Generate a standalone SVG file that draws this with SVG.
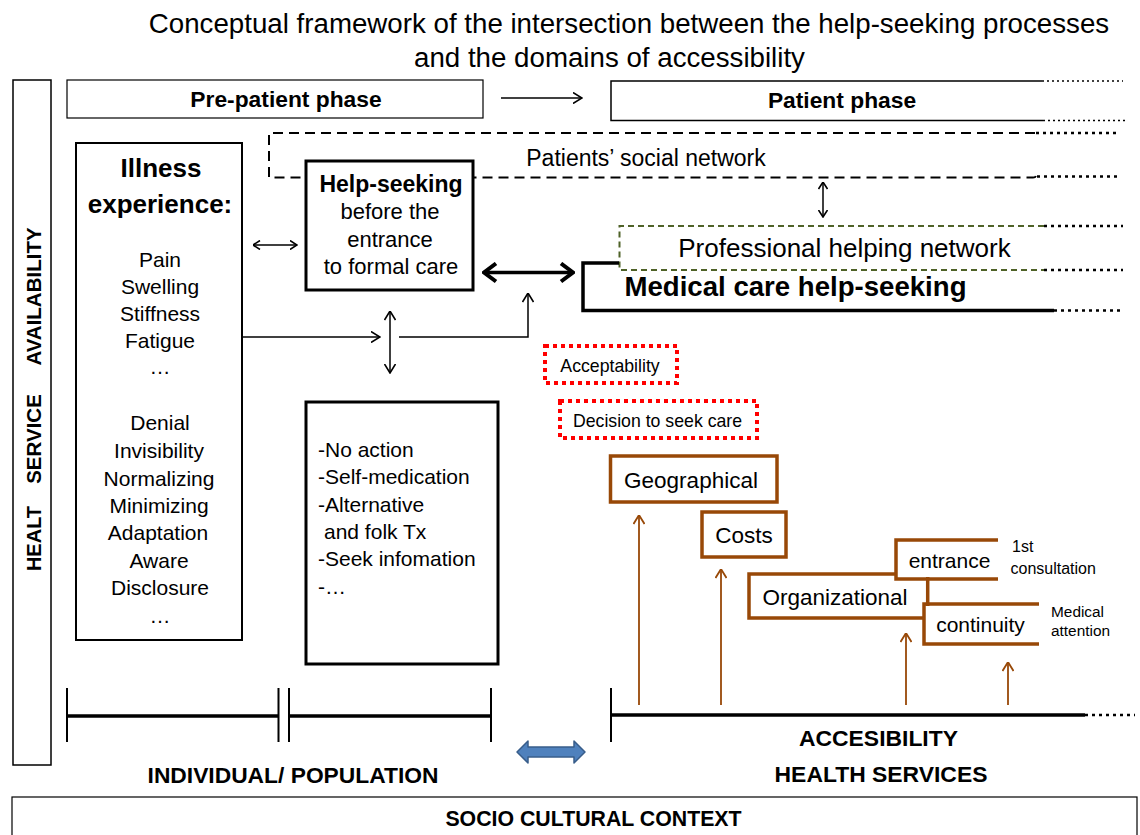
<svg xmlns="http://www.w3.org/2000/svg" width="1140" height="835" viewBox="0 0 1140 835">
  <style>
    text { font-family: "Liberation Sans", Arial, sans-serif; fill: #000; }
    .title { font-size: 27.7px; }
    .bold { font-weight: bold; }
    .box { fill: #fff; stroke: #000; }
    .thin { fill: none; stroke: #000; stroke-width: 1.5; }
    .dot { fill: none; stroke: #000; stroke-width: 2.5; stroke-dasharray: 3 4; }
    .dotfine { fill: none; stroke: #000; stroke-width: 1.5; stroke-dasharray: 2 3; }
    .brown { fill: #fff; stroke: #984807; stroke-width: 3.5; }
    .brownline { fill: none; stroke: #984807; stroke-width: 3.5; }
    .redbox { fill: #fff; stroke: #ff0000; stroke-width: 4; stroke-dasharray: 4 4; }
    .c { text-anchor: middle; }
    .list { font-size: 21px; }
  </style>
  <defs>
    <marker id="arrowThin" viewBox="0 0 10 12" refX="9.5" refY="6" markerWidth="10" markerHeight="12" markerUnits="userSpaceOnUse" orient="auto-start-reverse">
      <path d="M0.5,0.5 L9.5,6 L0.5,11.5" fill="none" stroke="#000" stroke-width="1.6"/>
    </marker>
    <marker id="arrowSmall" viewBox="0 0 8 10" refX="7.5" refY="5" markerWidth="8" markerHeight="10" markerUnits="userSpaceOnUse" orient="auto-start-reverse">
      <path d="M0.5,0.5 L7.5,5 L0.5,9.5" fill="none" stroke="#000" stroke-width="1.6"/>
    </marker>
    <marker id="arrowThick" viewBox="0 0 16 22" refX="14" refY="11" markerWidth="16" markerHeight="22" markerUnits="userSpaceOnUse" orient="auto-start-reverse">
      <path d="M2,2 L14,11 L2,20" fill="none" stroke="#000" stroke-width="4"/>
    </marker>
    <marker id="arrowBrown" viewBox="0 0 10 12" refX="9.5" refY="6" markerWidth="10" markerHeight="12" markerUnits="userSpaceOnUse" orient="auto">
      <path d="M0.5,0.5 L9.5,6 L0.5,11.5" fill="none" stroke="#984807" stroke-width="1.8"/>
    </marker>
  </defs>

  <rect width="1140" height="835" fill="#fff"/>

  <!-- heading -->
  <g id="title">
    <text class="title c" x="629" y="33">Conceptual framework of the intersection between the help-seeking processes</text>
    <text class="title c" x="609.5" y="67">and the domains of accessibility</text>
  </g>

  <!-- vertical side band -->
  <g id="health-service-availability">
    <rect class="box" x="13" y="80" width="38" height="685" stroke-width="1.5"/>
    <text class="bold c" font-size="20" transform="translate(40.5,538.5) rotate(-90)">HEALT</text>
    <text class="bold c" font-size="20.5" transform="translate(40.5,439) rotate(-90)">SERVICE</text>
    <text class="bold c" font-size="20.5" transform="translate(40.5,296.5) rotate(-90)">AVAILABILITY</text>
  </g>

  <!-- phase headers -->
  <g id="pre-patient-phase">
    <rect class="box" x="67" y="80" width="416" height="38" stroke-width="1.2"/>
    <text class="bold c" font-size="22.8" x="286" y="106.5">Pre-patient phase</text>
  </g>
  <g id="patient-phase">
    <path class="thin" d="M1042,81 H611 V120.5 H1043" stroke-width="1.2"/>
    <path class="dotfine" d="M1042,81 H1123 M1043,120.5 H1125"/>
    <text class="bold c" font-size="22.8" x="842" y="107.5">Patient phase</text>
  </g>

  <!-- social network -->
  <g id="social-network">
    <path d="M1035,133 H269 V177.5 H1033 Q1036,177.5 1036,175" fill="none" stroke="#000" stroke-width="2" stroke-dasharray="10 6"/>
    <path class="dot" d="M1036,133 H1118 M1037,176.5 H1118"/>
    <text class="c" font-size="23" x="646" y="166">Patients’ social network</text>
  </g>

  <!-- professional helping network -->
  <g id="professional-network">
    <path d="M1044,226 H619.5 V270 H1044" fill="#fff" stroke="#4f6228" stroke-width="2" stroke-dasharray="6 4"/>
    <path class="dot" d="M1044,226 H1123 M1044,270 H1123"/>
    <text class="c" font-size="26" x="844.5" y="257">Professional helping network</text>
  </g>

  <!-- medical care help-seeking -->
  <g id="medical-care">
    <path d="M619,263 H583 V310.5 H1054" fill="none" stroke="#000" stroke-width="3.5"/>
    <path class="dot" d="M1054,310.5 H1123"/>
    <text class="bold c" font-size="27.6" x="795.5" y="296">Medical care help-seeking</text>
  </g>

  <!-- illness experience -->
  <g id="illness-experience">
    <rect class="box" x="76" y="143" width="166" height="497" stroke-width="2"/>
    <text class="bold c" font-size="26" x="161" y="177">Illness</text>
    <text class="bold c" font-size="26" x="160" y="213">experience:</text>
    <g class="list">
      <text class="c" x="160" y="266.5">Pain</text>
      <text class="c" x="160" y="294">Swelling</text>
      <text class="c" x="160" y="321">Stiffness</text>
      <text class="c" x="160" y="348">Fatigue</text>
      <text class="c" x="160" y="374">…</text>
      <text class="c" x="160" y="430">Denial</text>
      <text class="c" x="159" y="458">Invisibility</text>
      <text class="c" x="159" y="486">Normalizing</text>
      <text class="c" x="159" y="513">Minimizing</text>
      <text class="c" x="158" y="540">Adaptation</text>
      <text class="c" x="159" y="568">Aware</text>
      <text class="c" x="160" y="595">Disclosure</text>
      <text class="c" x="160" y="623">…</text>
    </g>
  </g>

  <!-- help-seeking before formal care -->
  <g id="help-seeking">
    <rect class="box" x="306" y="161" width="167" height="129" stroke-width="3"/>
    <text class="bold c" font-size="23" x="391" y="192">Help-seeking</text>
    <text class="c" font-size="22" x="390" y="219">before the</text>
    <text class="c" font-size="22" x="390" y="247">entrance</text>
    <text class="c" font-size="22" x="391" y="274">to formal care</text>
  </g>

  <!-- informal actions -->
  <g id="informal-actions">
    <rect class="box" x="306" y="402" width="192" height="262" stroke-width="3"/>
    <g class="list">
      <text x="318" y="457">-No action</text>
      <text x="318" y="484">-Self-medication</text>
      <text x="318" y="512">-Alternative</text>
      <text x="324" y="539">and folk Tx</text>
      <text x="318" y="566">-Seek infomation</text>
      <text x="318" y="594">-…</text>
    </g>
  </g>

  <!-- acceptability -->
  <g id="acceptability">
    <rect class="redbox" x="545" y="346" width="132" height="37"/>
    <text class="c" font-size="17.7" x="610" y="372">Acceptability</text>
  </g>
  <g id="decision">
    <rect class="redbox" x="560" y="401" width="197" height="37"/>
    <text class="c" font-size="17.7" x="657.5" y="427">Decision to seek care</text>
  </g>

  <!-- accessibility domains -->
  <g id="geographical">
    <rect class="brown" x="610.5" y="456" width="166.5" height="46"/>
    <text class="c" font-size="22.5" x="691" y="488">Geographical</text>
  </g>
  <g id="costs">
    <rect class="brown" x="702" y="512" width="84" height="45"/>
    <text class="c" font-size="22.5" x="744" y="543">Costs</text>
  </g>
  <g id="organizational">
    <path class="brownline" d="M897,574 H749 V618 H925 M927.7,577 V606"/>
    <text class="c" font-size="22.5" x="835" y="605">Organizational</text>
  </g>
  <g id="entrance">
    <path class="brownline" d="M998,540 H896 V579 H998"/>
    <text class="c" font-size="21" x="949.5" y="568">entrance</text>
    <text font-size="16" x="1012" y="552">1st</text>
    <text font-size="16" x="1010.5" y="574">consultation</text>
  </g>
  <g id="continuity">
    <path class="brownline" d="M1039,604 H924 V644 H1039"/>
    <text class="c" font-size="21" x="980.5" y="632">continuity</text>
    <text font-size="15.4" x="1051" y="617">Medical</text>
    <text font-size="15.4" x="1051" y="636">attention</text>
  </g>

  <!-- scale bars -->
  <g id="individual-population">
    <path d="M67,688 V742 M278.5,688 V742 M289,688 V742 M491,688 V742" fill="none" stroke="#000" stroke-width="2"/>
    <path d="M67,716 H278.5 M289,716 H491" fill="none" stroke="#000" stroke-width="3.5"/>
    <text class="bold c" font-size="22.8" x="293" y="783">INDIVIDUAL/ POPULATION</text>
  </g>
  <g id="accessibility-health-services">
    <path d="M611,688 V742" fill="none" stroke="#000" stroke-width="2"/>
    <path d="M611,715 H1085" fill="none" stroke="#000" stroke-width="3.5"/>
    <path class="dot" d="M1085,715 H1135" stroke-width="3"/>
    <text class="bold c" font-size="22.9" x="878.5" y="746">ACCESIBILITY</text>
    <text class="bold c" font-size="22.9" x="881" y="782">HEALTH SERVICES</text>
  </g>

  <g id="socio-cultural-context">
    <rect class="box" x="12" y="797" width="1125" height="45" stroke-width="1.2"/>
    <text class="bold c" font-size="21.3" x="593.5" y="826">SOCIO CULTURAL CONTEXT</text>
  </g>

  <!-- connectors -->
  <g id="connectors">
    <line class="thin" x1="501" y1="98" x2="582" y2="98" marker-end="url(#arrowThin)"/>
    <line class="thin" x1="823" y1="182" x2="823" y2="217" marker-start="url(#arrowSmall)" marker-end="url(#arrowSmall)"/>
    <line class="thin" x1="253" y1="245" x2="297" y2="245" marker-start="url(#arrowSmall)" marker-end="url(#arrowSmall)"/>
    <line x1="484" y1="272.5" x2="573" y2="272.5" stroke="#000" stroke-width="3.5" marker-start="url(#arrowThick)" marker-end="url(#arrowThick)"/>
    <line class="thin" x1="242" y1="337" x2="380" y2="337" marker-end="url(#arrowThin)"/>
    <line class="thin" x1="390" y1="311" x2="390" y2="373" marker-start="url(#arrowThin)" marker-end="url(#arrowThin)"/>
    <path class="thin" d="M399,337 H528 V293" marker-end="url(#arrowThin)"/>
    <line x1="639" y1="705" x2="639" y2="515" stroke="#984807" stroke-width="1.8" marker-end="url(#arrowBrown)"/>
    <line x1="721" y1="705" x2="721" y2="569" stroke="#984807" stroke-width="1.8" marker-end="url(#arrowBrown)"/>
    <line x1="906" y1="705" x2="906" y2="633" stroke="#984807" stroke-width="1.8" marker-end="url(#arrowBrown)"/>
    <line x1="1008" y1="705" x2="1008" y2="662" stroke="#984807" stroke-width="1.8" marker-end="url(#arrowBrown)"/>
    <polygon points="517,752 528,741 528,747 574,747 574,741 585,752 574,763 574,757 528,757 528,763" fill="#4f81bd" stroke="#385d8a" stroke-width="1.5" stroke-linejoin="round"/>
  </g>
</svg>
